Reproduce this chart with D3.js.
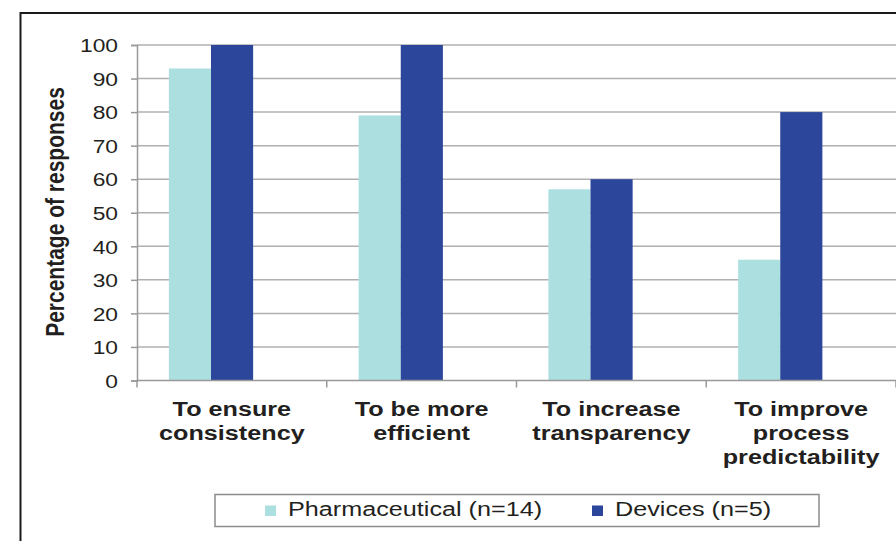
<!DOCTYPE html>
<html>
<head>
<meta charset="utf-8">
<script src="https://cdn.jsdelivr.net/npm/d3@7"></script>
<style>
  html, body { margin: 0; padding: 0; background: #fff; }
  svg { display: block; }
  text { font-family: "Liberation Sans", Arial, Helvetica, sans-serif; fill: #231f20; }
</style>
</head>
<body>
<svg id="chart" width="896" height="541"></svg>
<script>
// Reasons for adopting the process, share of respondents by sector
const categories = [
  ["To ensure", "consistency"],
  ["To be more", "efficient"],
  ["To increase", "transparency"],
  ["To improve", "process", "predictability"]
];
const seriesNames = ["Pharmaceutical (n=14)", "Devices (n=5)"];
const pharmaceutical = [93, 79, 57, 36];
const devices = [100, 100, 60, 80];
const yTicks = [0, 10, 20, 30, 40, 50, 60, 70, 80, 90, 100];
const colors = ["#acdfe0", "#2c469b"];

const SX = 1.2; // wide typeface look
const svg = d3.select("#chart");
const margin = { left: 137, right: 0, top: 45, bottom: 160.5 };
const W = 896, H = 541;

const catIndex = d3.range(categories.length);
const x0 = d3.scaleBand().domain(catIndex).range([margin.left, W - margin.right]).padding(0);
const bw = x0.bandwidth();
const x1 = d3.scaleBand().domain([0, 1]).range([bw * 0.168, bw * 0.612]).padding(0);
const y = d3.scaleLinear().domain([0, 100]).range([H - margin.bottom, margin.top]);

function wideText(parent, x, yPos, str, opts) {
  const g = parent.append("g").attr("transform", `translate(${x},${yPos}) scale(${SX},1)`);
  const t = g.append("text").attr("x", 0).attr("y", 0).text(str)
    .attr("text-anchor", opts.anchor || "start")
    .style("font-size", opts.size + "px")
    .style("font-weight", opts.weight || "normal");
  if (opts.baseline) t.attr("dominant-baseline", opts.baseline);
  return g;
}

// outer frame
svg.append("rect")
  .attr("x", 20.5).attr("y", 13).attr("width", 1000).attr("height", 1000)
  .attr("fill", "none").attr("stroke", "#1a1a1a").attr("stroke-width", 2);

// horizontal gridlines
svg.append("g").selectAll("line").data(yTicks.filter(d => d > 0)).join("line")
  .attr("x1", margin.left).attr("x2", W - margin.right)
  .attr("y1", d => y(d)).attr("y2", d => y(d))
  .attr("stroke", "#b0b0b0").attr("stroke-width", 1.5);

// bars
const series = [pharmaceutical, devices];
series.forEach((vals, si) => {
  svg.append("g").selectAll("rect").data(vals).join("rect")
    .attr("x", (d, i) => x0(i) + x1(si))
    .attr("width", x1.bandwidth())
    .attr("y", d => y(d))
    .attr("height", d => y(0) - y(d))
    .attr("fill", colors[si]);
});

// y axis
const yAxis = d3.axisLeft(y).tickValues(yTicks).tickSize(6).tickFormat("");
const gy = svg.append("g").attr("transform", `translate(${margin.left},0)`).call(yAxis);
gy.select(".domain").attr("stroke", "#999").attr("stroke-width", 1.5);
gy.selectAll(".tick line").attr("stroke", "#999").attr("stroke-width", 1.5);
yTicks.forEach(v => {
  wideText(svg, 118, y(v) + 0.5, String(v), { anchor: "end", size: 19, baseline: "central" });
});

// x axis line with band boundary ticks
svg.append("line")
  .attr("x1", margin.left).attr("x2", W).attr("y1", y(0)).attr("y2", y(0))
  .attr("stroke", "#999").attr("stroke-width", 1.5);
const bounds = catIndex.map(i => x0(i)).concat([x0(categories.length - 1) + bw]);
svg.append("g").selectAll("line").data(bounds).join("line")
  .attr("x1", d => d).attr("x2", d => d)
  .attr("y1", y(0)).attr("y2", y(0) + 7)
  .attr("stroke", "#999").attr("stroke-width", 1.5);

// category labels
categories.forEach((lines, i) => {
  const cx = x0(i) + bw / 2;
  lines.forEach((ln, k) => {
    wideText(svg, cx, 415.5 + k * 24, ln, { anchor: "middle", size: 21, weight: "bold" });
  });
});

// y axis title
const tg = svg.append("g").attr("transform", `translate(64,212) scale(${SX},1) rotate(-90)`);
tg.append("text").attr("text-anchor", "middle").attr("x", 0).attr("y", 0)
  .style("font-size", "21px").style("font-weight", "bold")
  .text("Percentage of responses");

// legend
const lg = svg.append("g");
lg.append("rect").attr("x", 215).attr("y", 494.5).attr("width", 604).attr("height", 32)
  .attr("fill", "#fff").attr("stroke", "#8c8c8c").attr("stroke-width", 1.5);
const legendItems = [
  { mark: 265, text: 288 },
  { mark: 592, text: 615 }
];
seriesNames.forEach((name, i) => {
  lg.append("rect").attr("x", legendItems[i].mark).attr("y", 505.5)
    .attr("width", 11).attr("height", 10.5).attr("fill", colors[i]);
  wideText(lg, legendItems[i].text, 516, name, { size: 21 });
});
</script>
</body>
</html>
